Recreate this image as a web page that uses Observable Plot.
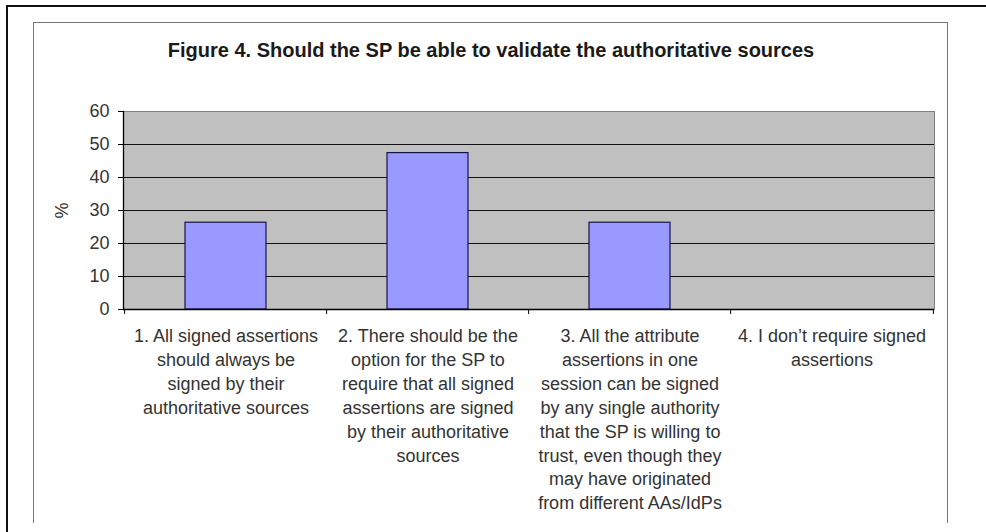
<!DOCTYPE html>
<html><head><meta charset="utf-8">
<script src="https://cdn.jsdelivr.net/npm/d3@7"></script>
<script src="https://cdn.jsdelivr.net/npm/@observablehq/plot@0.6"></script>
<style>
body{margin:0;background:#fff;}
#page{position:relative;width:986px;height:532px;overflow:hidden;font-family:"Liberation Sans",Arial,sans-serif;}
.line{position:absolute;}
#title{position:absolute;left:34px;width:914px;top:38px;text-align:center;font-weight:bold;font-size:20px;line-height:24px;color:#1a1a1a;}
#chart{position:absolute;left:0;top:70px;}
</style></head><body>
<div id="page">
<div class="line" style="left:6px;top:5px;width:980px;height:2px;background:#111"></div>
<div class="line" style="left:6px;top:5px;width:2px;height:527px;background:#111"></div>
<div class="line" style="left:33px;top:22px;width:915px;height:501px;border:1.5px solid #777;border-bottom:none;box-sizing:border-box"></div>
<div id="title">Figure 4. Should the SP be able to validate the authoritative sources</div>
<div id="chart"></div>
</div>
<script>
const categories = ["1", "2", "3", "4"];
const values = [26.3, 47.4, 26.3, 0];
const labels = [
  "1. All signed assertions\nshould always be\nsigned by their\nauthoritative sources",
  "2. There should be the\noption for the SP to\nrequire that all signed\nassertions are signed\nby their authoritative\nsources",
  "3. All the attribute\nassertions in one\nsession can be signed\nby any single authority\nthat the SP is willing to\ntrust, even though they\nmay have originated\nfrom different AAs/IdPs",
  "4. I don\u2019t require signed\nassertions"
];
const yTicks = [0, 10, 20, 30, 40, 50, 60];
const gridTicks = [10, 20, 30, 40, 50];

const W = 986, H = 462, ML = 123, MR = 52, MT = 41, MB = 223;
const step = (W - ML - MR) / categories.length;
const data = categories.map((c, i) => ({cat: c, value: values[i]}));

const chart = Plot.plot({
  width: W, height: H,
  marginLeft: ML, marginRight: MR, marginTop: MT, marginBottom: MB,
  style: {fontFamily: "'Liberation Sans', Arial, sans-serif", fontSize: "18px", color: "#333", background: "transparent"},
  x: {domain: categories, paddingInner: 0.6, paddingOuter: 0.3, label: null},
  y: {domain: [0, 60], label: "%"},
  marks: [
    Plot.frame({fill: "#c0c0c0", stroke: "#808080"}),
    Plot.gridY(gridTicks, {stroke: "#111", strokeOpacity: 1, strokeWidth: 1.2}),
    Plot.barY(data.filter(d => d.value > 0), {x: "cat", y: "value", fill: "#9999ff", stroke: "#14144a", strokeWidth: 1.2}),
    Plot.frame({anchor: "left", stroke: "#000", strokeWidth: 1.3}),
    Plot.ruleY([0], {stroke: "#000", strokeWidth: 1.3}),
    Plot.axisY(yTicks, {tickSize: 5, tickPadding: 9, stroke: "#000", fill: "#333", fontSize: 18, label: "%", labelAnchor: "center", labelOffset: 68, labelArrow: "none"}),
    Plot.axisX(categories, {tickSize: 5, dx: -step / 2, tickFormat: () => "", stroke: "#000", label: null}),
    Plot.axisX([categories[categories.length - 1]], {tickSize: 5, dx: step / 2, tickFormat: () => "", stroke: "#000", label: null}),
    Plot.axisX(categories, {tickSize: 0, tickPadding: 15, fontSize: 18, tickFormat: d => labels[categories.indexOf(d)], lineHeight: 1.333, fill: "#333", label: null})
  ]
});
document.getElementById("chart").appendChild(chart);
</script>
</body></html>
